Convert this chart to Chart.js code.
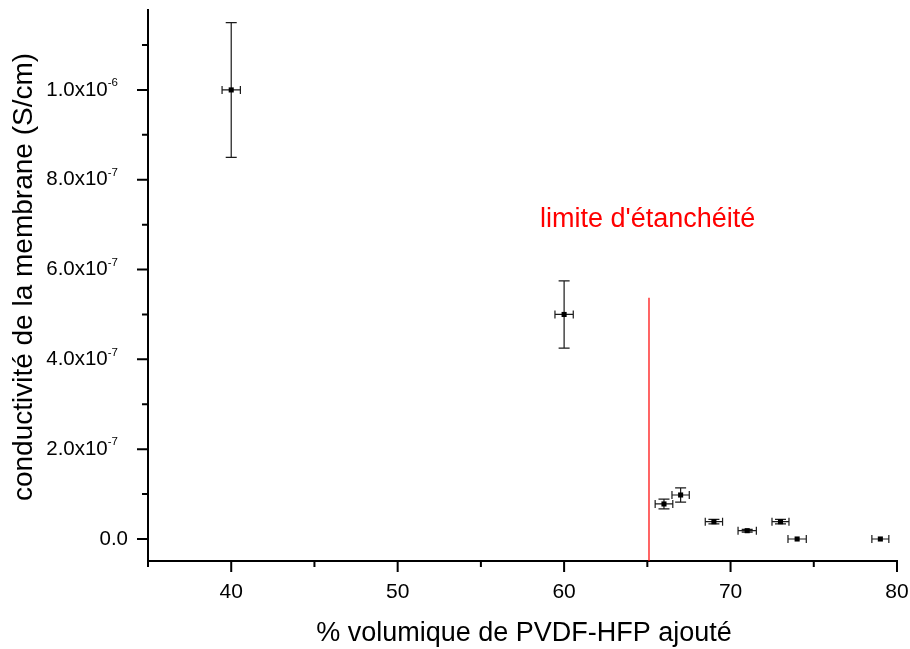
<!DOCTYPE html>
<html>
<head>
<meta charset="utf-8">
<script src="https://cdn.jsdelivr.net/npm/chart.js@4.4.1/dist/chart.umd.min.js"></script>
<style>body{margin:0;background:#fff}</style>
</head>
<body>
<canvas id="Grafico" width="910" height="649"></canvas>
<script>
'use strict';
// valeurs
const pvdf = [40, 60, 66, 67, 69, 71, 73, 74, 79];
const conductivite = [1.0e-6, 5.0e-7, 7.8e-8, 9.8e-8, 3.85e-8, 1.85e-8, 3.85e-8, 0, 0];
const errX = [0.55, 0.55, 0.53, 0.52, 0.52, 0.55, 0.51, 0.55, 0.51];
const errY = [1.5e-7, 7.5e-8, 1.1e-8, 1.6e-8, 5e-9, 3e-9, 5e-9, 0, 0];

// ligne verticale "limite d'étanchéité"
const limiteX = [65.1, 65.1];
const limiteY = [5.37e-7, -4.9e-8];
const texteLimite = "limite d'étanchéité";
const posTexte = {x: 58.55, y: 6.95e-7};

// graduations
const xTicks = [40, 50, 60, 70, 80];
const xLabels = ['40', '50', '60', '70', '80'];
const xMinor = [35, 45, 55, 65, 75];
const yTicks = [0, 2e-7, 4e-7, 6e-7, 8e-7, 1e-6];
const yLabels = ['0.0', '2.0x10', '4.0x10', '6.0x10', '8.0x10', '1.0x10'];
const yExpo = ['', '-7', '-7', '-7', '-7', '-6'];
const yMinor = [1e-7, 3e-7, 5e-7, 7e-7, 9e-7, 1.1e-6];

const titreX = '% volumique de PVDF-HFP ajouté';
const titreY = 'conductivité de la membrane (S/cm)';

const FONT = '"Liberation Sans", Arial, sans-serif';

const axesPerso = {
  id: 'axesPerso',
  // barres d'erreur sous les points
  beforeDatasetsDraw(chart) {
    const {ctx, scales: {x, y}} = chart;
    ctx.save();
    ctx.strokeStyle = '#1a1a1a';
    ctx.lineWidth = 1.2;
    pvdf.forEach((v, i) => {
      const px = x.getPixelForValue(v);
      const py = y.getPixelForValue(conductivite[i]);
      ctx.beginPath();
      if (errY[i] > 0) {
        const y1 = y.getPixelForValue(conductivite[i] + errY[i]);
        const y2 = y.getPixelForValue(conductivite[i] - errY[i]);
        ctx.moveTo(px, y1); ctx.lineTo(px, y2);
        ctx.moveTo(px - 5.5, y1); ctx.lineTo(px + 5.5, y1);
        ctx.moveTo(px - 5.5, y2); ctx.lineTo(px + 5.5, y2);
      }
      const x1 = x.getPixelForValue(v - errX[i]);
      const x2 = x.getPixelForValue(v + errX[i]);
      ctx.moveTo(x1, py); ctx.lineTo(x2, py);
      ctx.moveTo(x1, py - 4); ctx.lineTo(x1, py + 4);
      ctx.moveTo(x2, py - 4); ctx.lineTo(x2, py + 4);
      ctx.stroke();
    });
    ctx.restore();
  },
  afterDraw(chart) {
    const {ctx, chartArea: ca, scales: {x, y}} = chart;
    ctx.save();
    ctx.strokeStyle = '#000';
    ctx.lineWidth = 2;
    ctx.beginPath();
    xTicks.forEach(v => { const p = x.getPixelForValue(v); ctx.moveTo(p, ca.bottom); ctx.lineTo(p, ca.bottom + 11); });
    xMinor.forEach(v => { const p = x.getPixelForValue(v); ctx.moveTo(p, ca.bottom); ctx.lineTo(p, ca.bottom + 6); });
    yTicks.forEach(v => { const p = y.getPixelForValue(v); ctx.moveTo(ca.left, p); ctx.lineTo(ca.left - 11, p); });
    yMinor.forEach(v => { const p = y.getPixelForValue(v); ctx.moveTo(ca.left, p); ctx.lineTo(ca.left - 6, p); });
    ctx.stroke();

    ctx.fillStyle = '#000';
    ctx.font = '21px ' + FONT;
    ctx.textAlign = 'center';
    ctx.textBaseline = 'middle';
    xTicks.forEach((v, i) => ctx.fillText(xLabels[i], x.getPixelForValue(v), ca.bottom + 31));

    ctx.textAlign = 'left';
    yTicks.forEach((v, i) => {
      const p = y.getPixelForValue(v);
      ctx.font = '20.5px ' + FONT;
      const wb = ctx.measureText(yLabels[i]).width;
      if (!yExpo[i]) {
        ctx.fillText(yLabels[i], ca.left - 20 - wb, p);
        return;
      }
      ctx.font = '11.5px ' + FONT;
      const we = ctx.measureText(yExpo[i]).width;
      const droite = ca.left - 30;
      ctx.fillText(yExpo[i], droite - we, p - 7);
      ctx.font = '20.5px ' + FONT;
      ctx.fillText(yLabels[i], droite - we - wb, p);
    });

    // titres des axes
    ctx.font = '27px ' + FONT;
    ctx.textAlign = 'center';
    ctx.fillText(titreX, 524, 634);
    ctx.translate(24, 277);
    ctx.rotate(-Math.PI / 2);
    ctx.font = '28px ' + FONT;
    ctx.fillText(titreY, 0, 0);
    ctx.restore();

    // texte rouge
    ctx.save();
    ctx.fillStyle = '#ff0000';
    ctx.font = '27px ' + FONT;
    ctx.textAlign = 'left';
    ctx.textBaseline = 'alphabetic';
    ctx.fillText(texteLimite, x.getPixelForValue(posTexte.x), y.getPixelForValue(posTexte.y));
    ctx.restore();
  }
};

new Chart(document.getElementById('Grafico'), {
  type: 'scatter',
  data: {
    datasets: [{
      label: 'mesures',
      data: pvdf.map((v, i) => ({x: v, y: conductivite[i]})),
      pointStyle: 'rect',
      pointRadius: 3.6,
      backgroundColor: '#000',
      borderWidth: 0
    }, {
      label: 'limite',
      data: limiteX.map((v, i) => ({x: v, y: limiteY[i]})),
      showLine: true,
      borderColor: '#ff0000',
      borderWidth: 1.2,
      pointRadius: 0
    }]
  },
  options: {
    responsive: false,
    animation: false,
    layout: {padding: {top: 10, right: 13, bottom: 0, left: 0}},
    plugins: {legend: {display: false}, tooltip: {enabled: false}},
    scales: {
      x: {
        type: 'linear', min: 35, max: 80,
        grid: {display: false},
        border: {display: true, width: 2, color: '#000'},
        ticks: {display: false},
        afterFit: (s) => { s.height = 88; }
      },
      y: {
        type: 'linear', min: -4.9e-8, max: 1.178e-6,
        grid: {display: false},
        border: {display: true, width: 2, color: '#000'},
        ticks: {display: false},
        afterFit: (s) => { s.width = 148; }
      }
    }
  },
  plugins: [axesPerso]
});
</script>
</body>
</html>
